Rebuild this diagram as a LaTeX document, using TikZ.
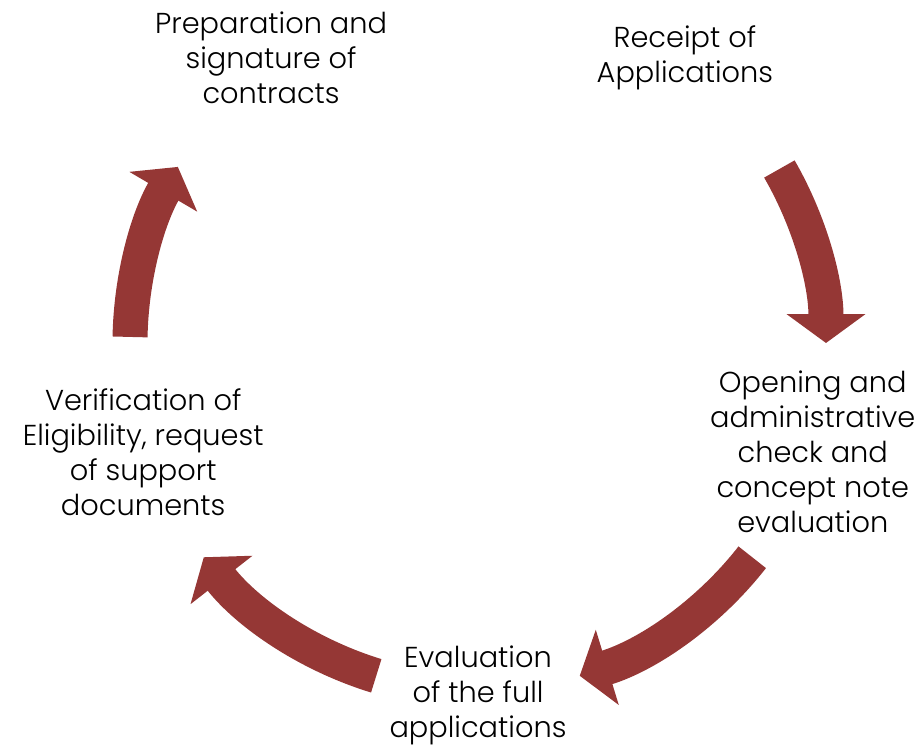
\documentclass[tikz,border=0pt]{standalone}
\usepackage{fontspec}
\setmainfont{Poppins}[UprightFont=* Light]
\usepackage{tikz}
\usetikzlibrary{arrows.meta}
\definecolor{arrowred}{RGB}{149,55,53}

\tikzset{
  steptext/.style={align=center, text=black, font=\fontsize{20.5}{24.9}\selectfont},
  flow/.style={arrowred, line width=0.875cm, -{Triangle[length=0.72cm, width=1.93cm]}},
}

\begin{document}
\begin{tikzpicture}
\useasboundingbox (-11.95,-10.15) rectangle (11.15,8.575);

% steps of the cycle, on a circle round the origin
\node[steptext] (receipt) at (54:8.8) {Receipt of\\Applications};
\node[steptext] (opening) at (-18:8.8) {Opening and\\administrative\\check and\\concept note\\evaluation};
\node[steptext] (evaluation) at (-90:8.8) {Evaluation\\of the full\\applications};
\node[steptext] (verification) at (-162:8.8) {Verification of\\Eligibility, request\\of support\\documents};
\node[steptext] (contracts) at (126:8.8) {Preparation and\\signature of\\contracts};

% arrows between them
\draw[flow] (30:8.7) arc[start angle=30, end angle=0, radius=8.7];
\draw[flow] (-38:8.7) arc[start angle=-38, end angle=-73, radius=8.7];
\draw[flow] (-107:8.7) arc[start angle=-107, end angle=-142, radius=8.7];
\draw[flow] (179:8.7) arc[start angle=179, end angle=149.6, radius=8.7];

\end{tikzpicture}
\end{document}
